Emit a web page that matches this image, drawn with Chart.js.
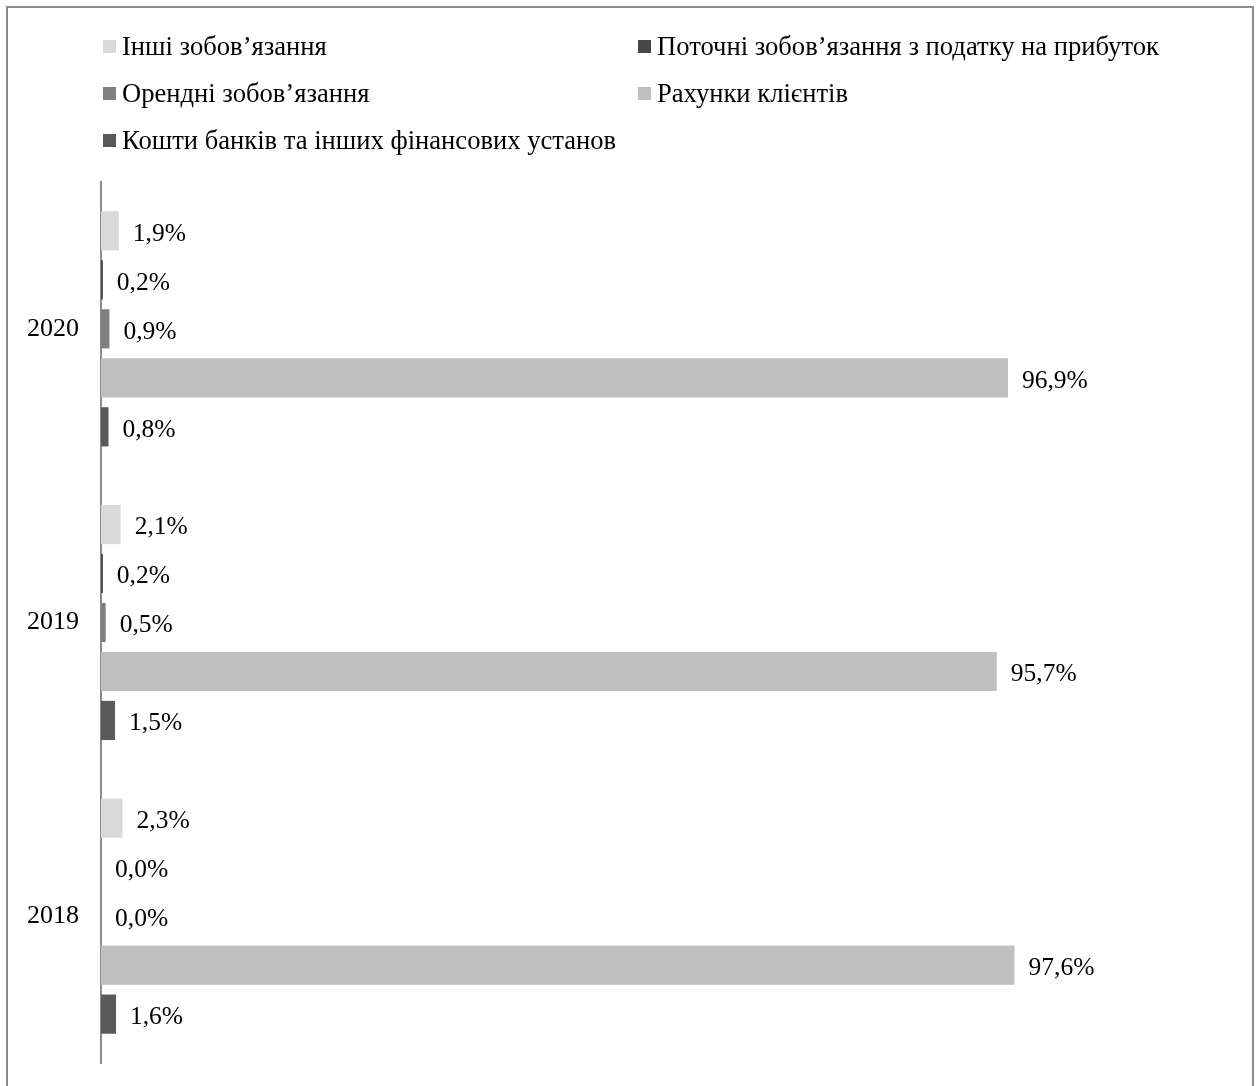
<!DOCTYPE html>
<html lang="uk">
<head>
<meta charset="utf-8">
<script src="https://cdn.jsdelivr.net/npm/chart.js@4/dist/chart.umd.min.js"></script>
<style>
  html, body { margin: 0; padding: 0; background: #fff; overflow: hidden; }
  #wrap { position: relative; width: 1258px; height: 1086px; }
  #frame {
    position: absolute; left: 6px; top: 6px; width: 1248px; height: 1100px;
    border: 2px solid #8c8c8c; box-sizing: border-box;
  }
  #chart { position: absolute; left: 0; top: 0; }
  #legend { position: absolute; left: 0; top: 0; font-family: "Liberation Serif", "Times New Roman", serif; font-size: 26.6px; color: #000; }
  .item { position: absolute; display: flex; align-items: center; white-space: nowrap; line-height: 1; }
  .box { width: 13px; height: 13px; margin-right: 6px; }
</style>
</head>
<body>
<div id="wrap">
  <div id="frame"></div>
  <canvas id="chart" width="1258" height="1086"></canvas>
  <div id="legend"></div>
</div>
<script>
// Роки (зверху вниз)
const years = ['2020', '2019', '2018'];

// Назви статей зобов'язань
const seriesNames = [
  'Інші зобов’язання',
  'Поточні зобов’язання з податку на прибуток',
  'Орендні зобов’язання',
  'Рахунки клієнтів',
  'Кошти банків та інших фінансових установ'
];

// Частки, % (по роках 2020, 2019, 2018)
const other = [1.9, 2.1, 2.3];
const incomeTax = [0.2, 0.2, 0.0];
const lease = [0.9, 0.5, 0.0];
const clients = [96.9, 95.7, 97.6];
const banks = [0.8, 1.5, 1.6];

const seriesColors = ['#d9d9d9', '#474747', '#808080', '#bfbfbf', '#5a5a5a'];

const seriesData = [other, incomeTax, lease, clients, banks];

// Позиції елементів легенди (дві колонки)
const legendSlots = [[103, 46], [638, 46], [103, 93], [638, 93], [103, 140]];

const fontFamily = '"Liberation Serif", "Times New Roman", serif';

// Легенда
const legendEl = document.getElementById('legend');
seriesNames.forEach((name, i) => {
  const item = document.createElement('div');
  item.className = 'item';
  item.style.left = legendSlots[i][0] + 'px';
  item.style.top = (legendSlots[i][1] - 13) + 'px';
  item.innerHTML = `<span class="box" style="background:${seriesColors[i]}"></span><span>${name}</span>`;
  legendEl.appendChild(item);
});

// Підписи значень праворуч від смуг
const valueLabels = {
  id: 'valueLabels',
  afterDatasetsDraw(chart) {
    const ctx = chart.ctx;
    ctx.save();
    ctx.font = '25.5px ' + fontFamily;
    ctx.fillStyle = '#000';
    ctx.textAlign = 'left';
    ctx.textBaseline = 'middle';
    chart.data.datasets.forEach((ds, i) => {
      chart.getDatasetMeta(i).data.forEach((bar, j) => {
        const text = ds.data[j].toFixed(1).replace('.', ',') + '%';
        ctx.fillText(text, bar.x + 14, bar.y + 3);
      });
    });
    ctx.restore();
  }
};

new Chart(document.getElementById('chart'), {
  type: 'bar',
  data: {
    labels: years,
    datasets: seriesNames.map((name, i) => ({
      label: name,
      data: seriesData[i],
      backgroundColor: seriesColors[i],
      borderWidth: 0,
      categoryPercentage: 0.834,
      barPercentage: 0.8
    }))
  },
  options: {
    indexAxis: 'y',
    responsive: false,
    animation: false,
    layout: { padding: { top: 182, bottom: 23, left: 0, right: 221 } },
    plugins: {
      legend: { display: false },
      tooltip: { enabled: false }
    },
    scales: {
      x: { display: false, min: 0, max: 100 },
      y: {
        grid: { display: false, drawTicks: false },
        border: { display: true, color: '#8c8c8c', width: 2 },
        ticks: { color: '#000', font: { family: fontFamily, size: 26 }, padding: 22 },
        afterFit(scale) {
          // фіксована ширина осі, без додаткових відступів зверху/знизу
          scale.width = 101;
          scale.paddingTop = 0;
          scale.paddingBottom = 0;
        }
      }
    }
  },
  plugins: [valueLabels]
});
</script>
</body>
</html>
